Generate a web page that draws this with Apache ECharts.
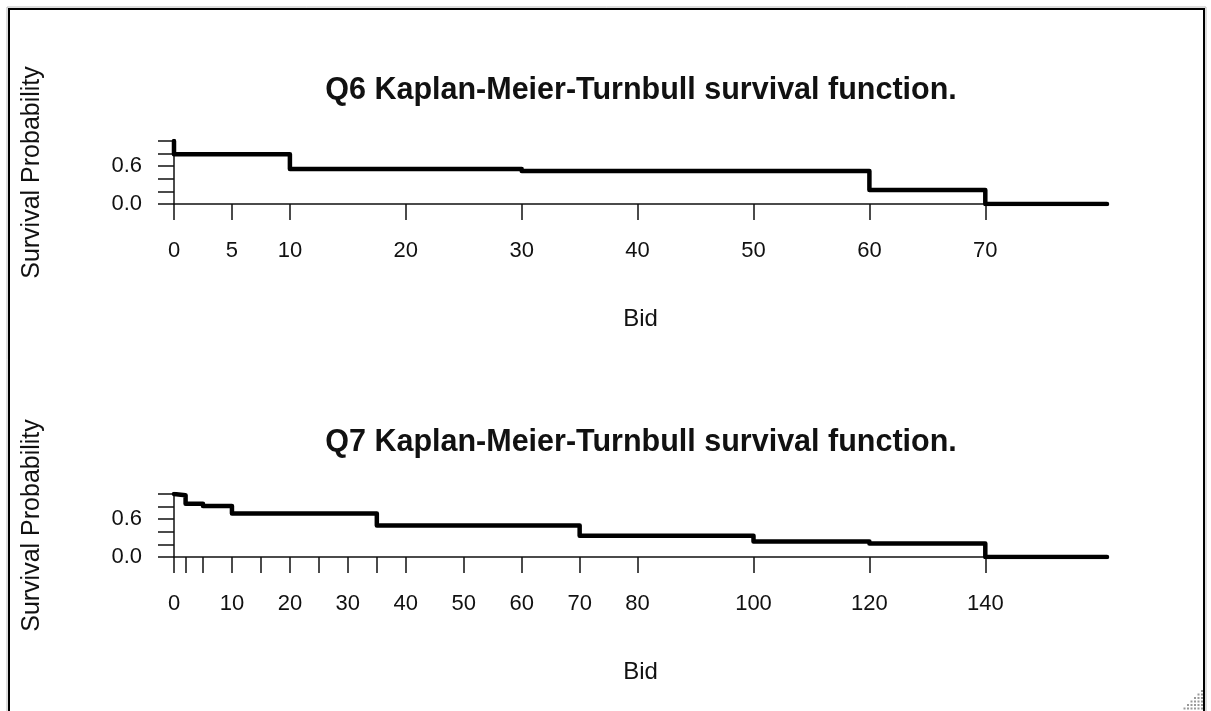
<!DOCTYPE html>
<html>
<head>
<meta charset="utf-8">
<script src="https://cdn.jsdelivr.net/npm/echarts@6/dist/echarts.min.js"></script>
<style>
html,body{margin:0;padding:0;background:#fff;}
#c{width:1211px;height:711px;}
</style>
</head>
<body>
<div id="c"></div>
<script>
// Q6 survival step function
const q6Bid = [0, 0, 10, 30, 60, 70, 80.5];
const q6Surv = [1.0, 0.79, 0.556, 0.524, 0.222, 0.0, 0.0];
const q6XTicks = [0, 5, 10, 20, 30, 40, 50, 60, 70];
const q6XLabels = [0, 5, 10, 20, 30, 40, 50, 60, 70];

// Q7 survival step function
const q7Bid = [0, 0, 2, 5, 10, 35, 70, 100, 120, 140, 161];
const q7Surv = [1.0, 0.98, 0.845, 0.81, 0.69, 0.50, 0.337, 0.246, 0.214, 0.0, 0.0];
const q7XTicks = [0, 2, 5, 10, 15, 20, 25, 30, 35, 40, 50, 60, 70, 80, 100, 120, 140];
const q7XLabels = [0, 10, 20, 30, 40, 50, 60, 70, 80, 100, 120, 140];

const yTicks = [0, 0.2, 0.4, 0.6, 0.8, 1.0];
const yLabels = [0, 0.6];

const titles = ['Q6 Kaplan-Meier-Turnbull survival function.', 'Q7 Kaplan-Meier-Turnbull survival function.'];

const FONT = 'Liberation Sans, Arial, sans-serif';
const chart = echarts.init(document.getElementById('c'));

function xAx(idx, max, ticks, labels) {
  return {
    type: 'value', gridIndex: idx, min: 0, max: max,
    name: 'Bid', nameLocation: 'middle', nameGap: 103,
    nameTextStyle: {fontFamily: FONT, fontSize: 24, color: '#111'},
    axisLine: {show: true, onZero: false, lineStyle: {color: '#111', width: 1.5}},
    axisTick: {show: true, length: 16, customValues: ticks, lineStyle: {color: '#111', width: 1.5}},
    axisLabel: {customValues: labels, margin: 36, fontFamily: FONT, fontSize: 22, color: '#111'},
    splitLine: {show: false}
  };
}
function yAx(idx) {
  return {
    type: 'value', gridIndex: idx, min: 0, max: 1,
    name: 'Survival Probability', nameLocation: 'middle', nameRotate: 90, nameGap: 129,
    nameTextStyle: {fontFamily: FONT, fontSize: 25, color: '#111'},
    axisLine: {show: true, lineStyle: {color: '#111', width: 1.5}},
    axisTick: {show: true, length: 16, customValues: yTicks, lineStyle: {color: '#111', width: 1.5}},
    axisLabel: {customValues: yLabels, margin: 32, fontFamily: FONT, fontSize: 22, color: '#111',
      formatter: v => Number(v).toFixed(1)},
    splitLine: {show: false}
  };
}

// resize grip dots (decoration)
const grip = [];
for (let r = 0; r < 6; r++) {
  for (let c = 0; c <= r; c++) {
    grip.push({type: 'rect', silent: true, z: 101,
      shape: {x: 1201 - c * 3.5, y: 690 + r * 3.5, width: 2, height: 2},
      style: {fill: '#999'}});
  }
}

chart.setOption({
  animation: false,
  backgroundColor: '#fff',
  title: [
    {text: titles[0], left: 636, top: 70, textAlign: 'center',
     textStyle: {fontFamily: FONT, fontSize: 30.5, fontWeight: 'bold', color: '#111'}},
    {text: titles[1], left: 636, top: 422, textAlign: 'center',
     textStyle: {fontFamily: FONT, fontSize: 30.5, fontWeight: 'bold', color: '#111'}}
  ],
  grid: [
    {left: 174, top: 141, width: 933, height: 63},
    {left: 174, top: 494, width: 933, height: 63}
  ],
  xAxis: [xAx(0, 80.5, q6XTicks, q6XLabels), xAx(1, 161, q7XTicks, q7XLabels)],
  yAxis: [yAx(0), yAx(1)],
  series: [
    {type: 'line', xAxisIndex: 0, yAxisIndex: 0, step: 'end', showSymbol: false, symbol: 'none',
     data: q6Bid.map((b, i) => [b, q6Surv[i]]),
     lineStyle: {color: '#000', width: 4.5, cap: 'round', join: 'round'}},
    {type: 'line', xAxisIndex: 1, yAxisIndex: 1, step: 'end', showSymbol: false, symbol: 'none',
     data: q7Bid.map((b, i) => [b, q7Surv[i]]),
     lineStyle: {color: '#000', width: 4.5, cap: 'round', join: 'round'}}
  ],
  graphic: [
    {type: 'rect', shape: {x: 9, y: 9, width: 1195, height: 720}, silent: true,
     style: {fill: 'none', stroke: '#000', lineWidth: 2}, z: 100},
    {type: 'rect', shape: {x: 7, y: 7, width: 1199, height: 724}, silent: true,
     style: {fill: 'none', stroke: '#bbb', lineWidth: 1}, z: 100}
  ].concat(grip)
});
</script>
</body>
</html>
